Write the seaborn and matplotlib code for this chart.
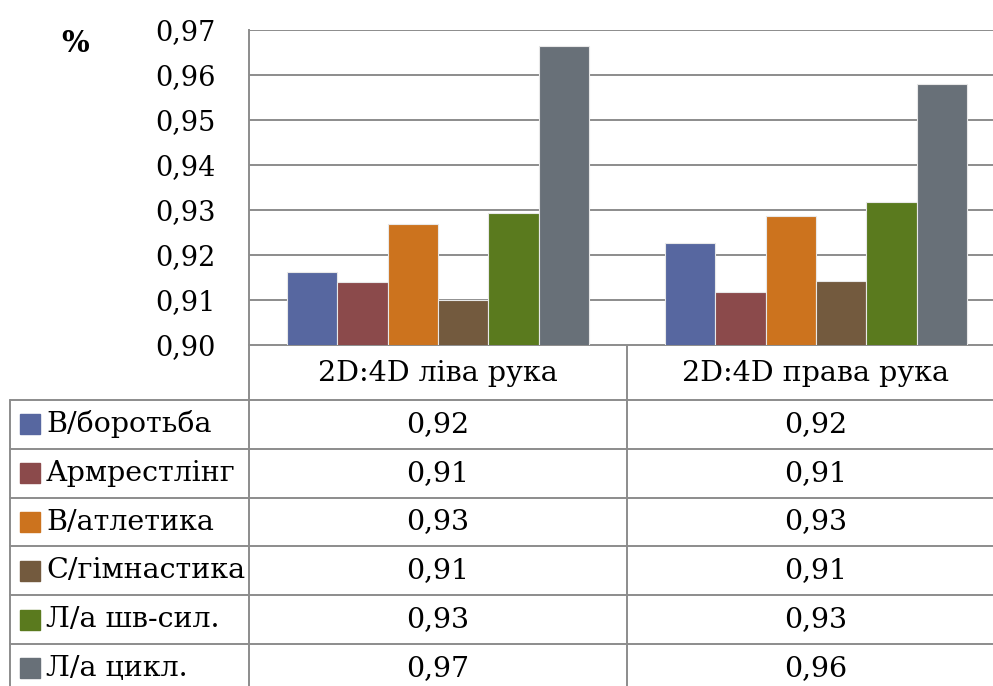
import matplotlib
matplotlib.use("Agg")
import matplotlib.pyplot as plt
import seaborn as sns
import pandas as pd
from matplotlib.lines import Line2D
from matplotlib.patches import Rectangle

# data
groups = ["2D:4D ліва рука", "2D:4D права рука"]
sports = ["В/боротьба", "Армрестлінг", "В/атлетика", "С/гімнастика", "Л/а шв-сил.", "Л/а цикл."]
left_hand = [0.9162, 0.9140, 0.9269, 0.9099, 0.9293, 0.9664]
right_hand = [0.9227, 0.9118, 0.9287, 0.9142, 0.9318, 0.9580]
table_left = ["0,92", "0,91", "0,93", "0,91", "0,93", "0,97"]
table_right = ["0,92", "0,91", "0,93", "0,91", "0,93", "0,96"]
yticks = [0.90, 0.91, 0.92, 0.93, 0.94, 0.95, 0.96, 0.97]
colors = ["#5767a0", "#8b4a4b", "#cc731e", "#735a3e", "#5a7a1e", "#687078"]

sns.set_theme(style="white")
plt.rcParams["font.family"] = ["DejaVu Serif"]
plt.rcParams["text.color"] = "black"
plt.rcParams["ytick.color"] = "black"
FS = 20.5

df = pd.DataFrame({
    "group": [groups[0]] * len(sports) + [groups[1]] * len(sports),
    "sport": sports * 2,
    "value": left_hand + right_hand,
})

W, H = 993, 686
fig = plt.figure(figsize=(W / 100, H / 100), dpi=100)
grid_c = "#8c8c8c"

# plot area: x 249..1005 px, y 30..345 px
ax = fig.add_axes([249 / W, (H - 345) / H, (1005 - 249) / W, 315 / H])
sns.barplot(data=df, x="group", y="value", hue="sport", palette=colors,
            width=0.8, edgecolor="#e8e8e8", linewidth=0.8, saturation=1,
            legend=False, ax=ax, zorder=3)
ax.set_ylim(0.90, 0.97)
ax.set_xlim(-0.5, 1.5)
ax.set_yticks(yticks)
ax.set_yticklabels([f"{t:.2f}".replace(".", ",") for t in yticks], fontsize=19.5)
ax.tick_params(axis="y", length=0, pad=24, labelcolor="black")
ax.set_xticks([])
ax.set_xlabel("")
ax.set_ylabel("")
ax.yaxis.grid(True, color=grid_c, linewidth=1.4)
ax.set_axisbelow(True)
for s in ["top", "right", "bottom"]:
    ax.spines[s].set_visible(False)
ax.spines["left"].set_color(grid_c)
ax.spines["left"].set_linewidth(1.4)

# overlay in pixel coordinates for the data table
ov = fig.add_axes([0, 0, 1, 1], zorder=-1)
ov.set_xlim(0, W)
ov.set_ylim(H, 0)
ov.axis("off")

def px(xdata):
    return ax.transData.transform((xdata, 0.9))[0]

col_edges = [px(-0.5), px(0.5), px(1.5)]
col_centers = [px(0), px(1)]
row_h = 48.8
header_top, header_bot = 345, 400
row_lines = [header_bot + i * row_h for i in range(7)]

# horizontal lines
ov.add_line(Line2D([col_edges[0], W + 20], [header_top, header_top], color=grid_c, lw=1.4))
for y in row_lines:
    ov.add_line(Line2D([10, W + 20], [y, y], color=grid_c, lw=1.4))
# vertical lines
ov.add_line(Line2D([10, 10], [header_bot, H + 20], color=grid_c, lw=1.4))
for x in col_edges:
    ov.add_line(Line2D([x, x], [header_top, H + 20], color=grid_c, lw=1.4))

for g, xc in zip(groups, col_centers):
    ov.text(xc, (header_top + header_bot) / 2 + 1, g, fontsize=FS, ha="center", va="center")

for i, (name, c) in enumerate(zip(sports, colors)):
    yc = header_bot + (i + 0.5) * row_h
    ov.add_patch(Rectangle((20, yc - 10), 20, 20, color=c))
    ov.text(46, yc, name, fontsize=FS, ha="left", va="center")
    ov.text(col_centers[0], yc, table_left[i], fontsize=FS, ha="center", va="center")
    ov.text(col_centers[1], yc, table_right[i], fontsize=FS, ha="center", va="center")

ov.text(75, 44, "%", fontsize=21, fontweight="bold", ha="center", va="center")

fig.savefig("out.png", dpi=100)
